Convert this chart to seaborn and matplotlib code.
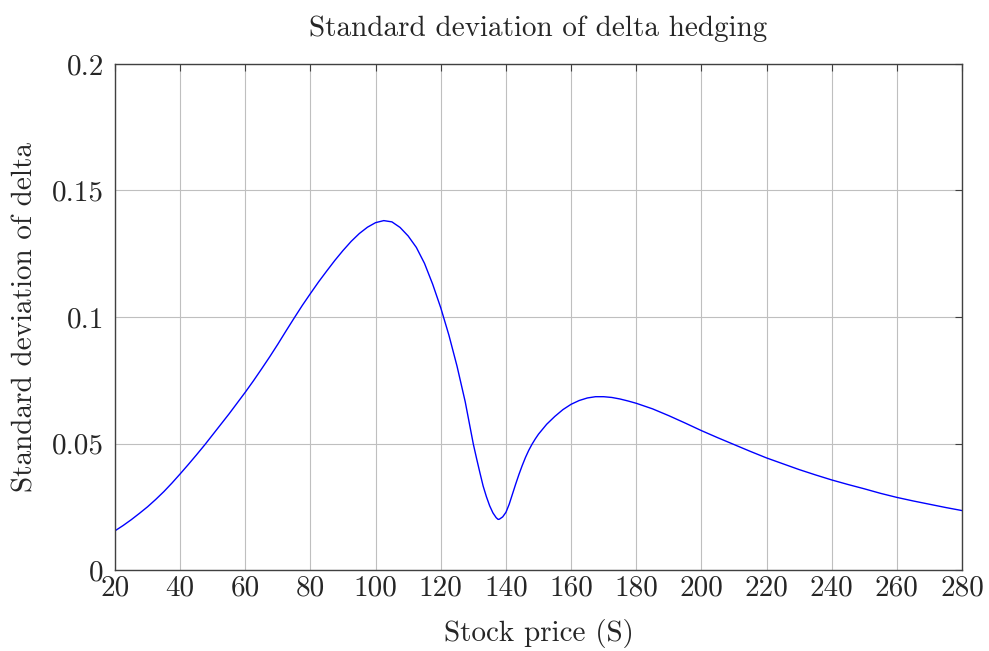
import numpy as np
import pandas as pd
import matplotlib
matplotlib.use("Agg")
import matplotlib.pyplot as plt
import seaborn as sns

# Stock price grid and standard deviation of delta at each price
stock_price = [20, 22.5, 25, 27.5, 30, 32.5, 35, 37.5, 40, 42.5, 45, 47.5, 50,
               52.5, 55, 57.5, 60, 62.5, 65, 67.5, 70, 72.5, 75, 77.5, 80,
               82.5, 85, 87.5, 90, 92.5, 95, 97.5, 100, 102.5, 105, 107.5, 110,
               112.5, 115, 117.5, 120, 122.5, 125, 127.5, 130, 131, 132, 133,
               134, 135, 136, 137, 137.6, 138, 139, 140, 141, 142, 143, 144,
               145, 146, 147, 148, 149, 150, 152.5, 155, 157.5, 160, 162.5,
               165, 167.5, 170, 172.5, 175, 177.5, 180, 185, 190, 195, 200,
               205, 210, 215, 220, 225, 230, 235, 240, 245, 250, 255, 260, 265,
               270, 275, 280]
std_delta = [0.0155, 0.0176, 0.0199, 0.0224, 0.0250, 0.0279, 0.0310, 0.0344,
             0.0380, 0.0417, 0.0455, 0.0494, 0.0535, 0.0576, 0.0617, 0.0660,
             0.0703, 0.0748, 0.0795, 0.0843, 0.0893, 0.0945, 0.0996, 0.1046,
             0.1093, 0.1139, 0.1182, 0.1224, 0.1263, 0.1299, 0.1330, 0.1355,
             0.1373, 0.1381, 0.1376, 0.1354, 0.1320, 0.1275, 0.1212, 0.1130,
             0.1036, 0.0928, 0.0805, 0.0665, 0.0497, 0.0440, 0.0385, 0.0332,
             0.0290, 0.0254, 0.0226, 0.0207, 0.0200, 0.0201, 0.0210, 0.0228,
             0.0260, 0.0300, 0.0340, 0.0378, 0.0413, 0.0445, 0.0473, 0.0497,
             0.0518, 0.0537, 0.0576, 0.0607, 0.0634, 0.0655, 0.0670, 0.0680,
             0.0685, 0.0685, 0.0682, 0.0676, 0.0668, 0.0659, 0.0637, 0.0610,
             0.0581, 0.0551, 0.0523, 0.0496, 0.0469, 0.0443, 0.0420, 0.0397,
             0.0376, 0.0356, 0.0338, 0.0321, 0.0303, 0.0287, 0.0273, 0.0260,
             0.0247, 0.0235]

x_ticks = [20, 40, 60, 80, 100, 120, 140, 160, 180, 200, 220, 240, 260, 280]
y_ticks = [0, 0.05, 0.1, 0.15, 0.2]
y_tick_labels = ["0", "0.05", "0.1", "0.15", "0.2"]

df = pd.DataFrame({"S": stock_price, "sd": std_delta})

sns.set_theme(style="white")
plt.rcParams["font.family"] = ["cmr10", "DejaVu Serif"]
plt.rcParams["axes.formatter.use_mathtext"] = True

fig = plt.figure(figsize=(9.89, 6.51), dpi=100)
ax = fig.add_axes([0.1163, 0.1244, 0.8564, 0.7773])

sns.lineplot(data=df, x="S", y="sd", ax=ax, color="#0000ff", linewidth=1.0)

ax.set_xlim(20, 280)
ax.set_ylim(0, 0.2)
ax.set_xticks(x_ticks)
ax.set_xticklabels([str(t) for t in x_ticks])
ax.set_yticks(y_ticks)
ax.set_yticklabels(y_tick_labels)

ax.grid(True, color="#bfbfbf", linewidth=0.8)
ax.set_axisbelow(True)
for sp in ax.spines.values():
    sp.set_color("#404040")
    sp.set_linewidth(1.0)

ax.tick_params(direction="in", length=5, width=0.8, color="#404040",
               top=True, right=True, labelsize=21)
ax.tick_params(axis="x", pad=4)
ax.tick_params(axis="y", pad=8)

ax.set_xlabel("Stock price (S)", fontsize=21, labelpad=12)
ax.set_ylabel("Standard deviation of delta", fontsize=21, labelpad=10)
ax.set_title("Standard deviation of delta hedging", fontsize=21, pad=20)

fig.savefig("out.png", dpi=100)
